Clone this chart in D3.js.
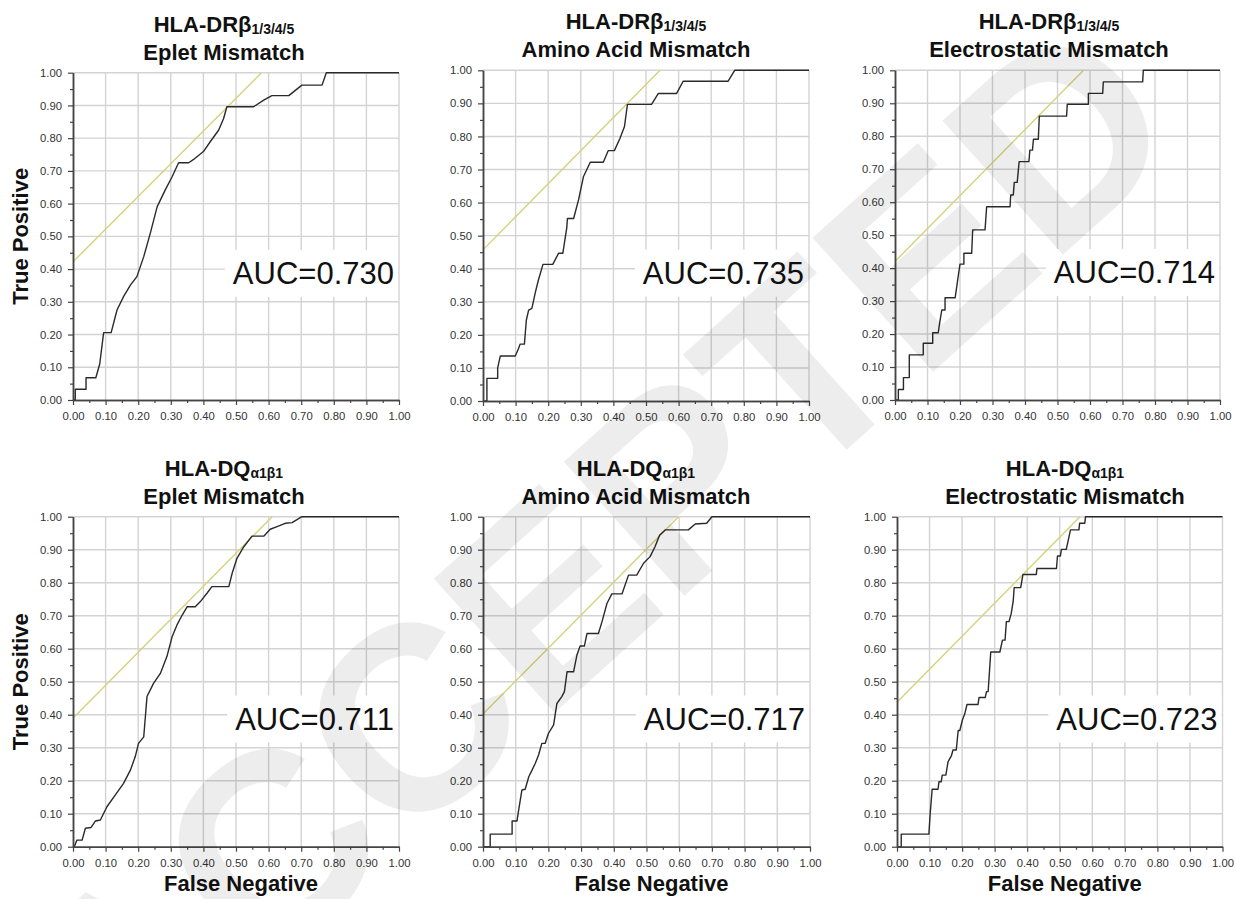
<!DOCTYPE html>
<html>
<head>
<meta charset="utf-8">
<script src="https://cdn.jsdelivr.net/npm/d3@7"></script>
<style>
  html, body { margin: 0; padding: 0; background: #ffffff; }
  svg { display: block; }
</style>
</head>
<body>
<svg id="chart" width="1236" height="899"></svg>
<script>
// ---------------- DATA ----------------
const tickValues = [0, 0.1, 0.2, 0.3, 0.4, 0.5, 0.6, 0.7, 0.8, 0.9, 1.0];
const tickLabels = ["0.00", "0.10", "0.20", "0.30", "0.40", "0.50", "0.60", "0.70", "0.80", "0.90", "1.00"];
const minorTickValues = [0.05, 0.15, 0.25, 0.35, 0.45, 0.55, 0.65, 0.75, 0.85, 0.95];

const locusNames = ["HLA-DR\u03B2", "HLA-DR\u03B2", "HLA-DR\u03B2", "HLA-DQ", "HLA-DQ", "HLA-DQ"];
const locusSubs = ["1/3/4/5", "1/3/4/5", "1/3/4/5", "\u03B11\u03B21", "\u03B11\u03B21", "\u03B11\u03B21"];
const methodNames = ["Eplet Mismatch", "Amino Acid Mismatch", "Electrostatic Mismatch",
                     "Eplet Mismatch", "Amino Acid Mismatch", "Electrostatic Mismatch"];
const aucLabels = ["AUC=0.730", "AUC=0.735", "AUC=0.714", "AUC=0.711", "AUC=0.717", "AUC=0.723"];
const yAxisTitle = "True Positive";
const xAxisTitle = "False Negative";
const watermarkText = "ACCEPTED";

// reference (tangent) lines: [x0, y0, x1, y1]
const refLines = [
  [0, 0.422, 0.578, 1],
  [0, 0.457, 0.543, 1],
  [0, 0.420, 0.580, 1],
  [0, 0.389, 0.611, 1],
  [0, 0.402, 0.598, 1],
  [0, 0.438, 0.562, 1]
];

const curveDrEplet = [[0,0],[0.007,0],[0.007,0.033],[0.04,0.033],[0.04,0.068],[0.07,0.068],[0.082,0.11],[0.094,0.206],[0.117,0.206],[0.135,0.275],[0.155,0.316],[0.176,0.351],[0.196,0.377],[0.217,0.438],[0.237,0.509],[0.258,0.59],[0.283,0.642],[0.304,0.682],[0.324,0.725],[0.355,0.725],[0.37,0.735],[0.4,0.759],[0.421,0.789],[0.447,0.825],[0.462,0.86],[0.472,0.896],[0.554,0.896],[0.585,0.916],[0.61,0.93],[0.662,0.93],[0.702,0.962],[0.764,0.962],[0.777,1],[1,1]];

const curveDrAmino = [[0,0],[0.012,0],[0.012,0.0685],[0.045,0.0685],[0.045,0.1],[0.053,0.136],[0.099,0.136],[0.109,0.159],[0.114,0.172],[0.127,0.172],[0.133,0.245],[0.14,0.275],[0.15,0.28],[0.16,0.326],[0.17,0.366],[0.184,0.413],[0.214,0.413],[0.232,0.447],[0.245,0.447],[0.257,0.524],[0.259,0.552],[0.278,0.552],[0.293,0.608],[0.308,0.678],[0.329,0.722],[0.369,0.722],[0.384,0.757],[0.403,0.757],[0.42,0.794],[0.434,0.83],[0.443,0.897],[0.517,0.897],[0.538,0.93],[0.594,0.93],[0.614,0.967],[0.752,0.967],[0.772,1],[1,1]];

const curveDrElectro = [[0,0],[0.0103,0],[0.0103,0.032],[0.026,0.032],[0.026,0.068],[0.044,0.068],[0.044,0.137],[0.087,0.137],[0.087,0.172],[0.116,0.172],[0.116,0.204],[0.133,0.204],[0.138,0.238],[0.144,0.273],[0.154,0.273],[0.154,0.31],[0.185,0.31],[0.19,0.344],[0.195,0.379],[0.2,0.412],[0.212,0.412],[0.212,0.445],[0.236,0.445],[0.239,0.516],[0.277,0.516],[0.282,0.586],[0.354,0.586],[0.356,0.622],[0.364,0.622],[0.367,0.66],[0.376,0.66],[0.382,0.723],[0.412,0.723],[0.415,0.758],[0.423,0.758],[0.426,0.791],[0.441,0.791],[0.444,0.861],[0.528,0.861],[0.53,0.897],[0.595,0.897],[0.595,0.93],[0.639,0.93],[0.641,0.965],[0.762,0.965],[0.764,1],[1,1]];

const curveDqEplet = [[0,0],[0.004,0],[0.012,0.02],[0.028,0.02],[0.038,0.056],[0.055,0.058],[0.069,0.078],[0.084,0.081],[0.104,0.121],[0.13,0.157],[0.155,0.192],[0.176,0.232],[0.191,0.273],[0.201,0.313],[0.217,0.333],[0.227,0.455],[0.247,0.495],[0.268,0.525],[0.288,0.576],[0.304,0.636],[0.319,0.672],[0.335,0.702],[0.35,0.727],[0.375,0.727],[0.39,0.742],[0.411,0.768],[0.426,0.788],[0.478,0.788],[0.488,0.828],[0.503,0.874],[0.524,0.909],[0.549,0.941],[0.585,0.941],[0.605,0.962],[0.626,0.97],[0.651,0.98],[0.672,0.982],[0.702,1],[1,1]];

const curveDqAmino = [[0,0],[0.022,0],[0.022,0.038],[0.089,0.038],[0.089,0.078],[0.104,0.078],[0.109,0.111],[0.114,0.141],[0.119,0.172],[0.129,0.174],[0.14,0.212],[0.15,0.232],[0.16,0.253],[0.17,0.278],[0.18,0.313],[0.19,0.313],[0.2,0.343],[0.216,0.369],[0.226,0.434],[0.241,0.455],[0.249,0.47],[0.257,0.53],[0.277,0.53],[0.287,0.58],[0.297,0.608],[0.31,0.608],[0.318,0.646],[0.353,0.646],[0.364,0.682],[0.379,0.737],[0.394,0.766],[0.425,0.766],[0.445,0.823],[0.47,0.823],[0.491,0.859],[0.511,0.879],[0.526,0.909],[0.54,0.944],[0.557,0.96],[0.628,0.96],[0.649,0.978],[0.684,0.98],[0.7,1],[1,1]];

const curveDqElectro = [[0,0],[0.013,0],[0.013,0.038],[0.098,0.038],[0.102,0.101],[0.108,0.174],[0.126,0.174],[0.129,0.197],[0.136,0.197],[0.139,0.217],[0.15,0.217],[0.157,0.258],[0.167,0.275],[0.172,0.293],[0.182,0.293],[0.188,0.352],[0.193,0.352],[0.201,0.384],[0.208,0.402],[0.215,0.431],[0.249,0.431],[0.252,0.452],[0.271,0.452],[0.275,0.47],[0.28,0.47],[0.285,0.545],[0.288,0.59],[0.316,0.59],[0.324,0.626],[0.332,0.626],[0.336,0.682],[0.344,0.682],[0.351,0.707],[0.357,0.744],[0.36,0.785],[0.38,0.785],[0.387,0.825],[0.428,0.825],[0.43,0.843],[0.49,0.843],[0.493,0.881],[0.502,0.881],[0.505,0.901],[0.52,0.901],[0.533,0.96],[0.559,0.96],[0.561,0.98],[0.577,0.98],[0.579,1],[1,1]];

const curves = [curveDrEplet, curveDrAmino, curveDrElectro, curveDqEplet, curveDqAmino, curveDqElectro];

// ---------------- LAYOUT (pixels) ----------------
const layout = [
  { left: 73,  right: 399,   top: 72.7,  bottom: 400,   titleX: 224,  yTitle: true,  xTitle: false },
  { left: 483, right: 809,   top: 70.3,  bottom: 401,   titleX: 636,  yTitle: false, xTitle: false },
  { left: 895, right: 1220,  top: 70.3,  bottom: 400,   titleX: 1049, yTitle: false, xTitle: false },
  { left: 73,  right: 399,   top: 516.7, bottom: 846.7, titleX: 224,  yTitle: true,  xTitle: true },
  { left: 483, right: 810,   top: 516.7, bottom: 846.7, titleX: 636,  yTitle: false, xTitle: true },
  { left: 897, right: 1222.5,top: 516.7, bottom: 846.7, titleX: 1065, yTitle: false, xTitle: true }
];
const FONT = "'Liberation Sans', Arial, Helvetica, sans-serif";

const svg = d3.select("#chart");
svg.append("rect").attr("width", 1236).attr("height", 899).attr("fill", "#ffffff");

layout.forEach((L, i) => {
  const x = d3.scaleLinear().domain([0, 1]).range([L.left, L.right]);
  const y = d3.scaleLinear().domain([0, 1]).range([L.bottom, L.top]);
  const g = svg.append("g");

  // grid
  g.append("g").selectAll("line.v").data(tickValues.slice(1)).join("line")
    .attr("x1", d => x(d)).attr("x2", d => x(d))
    .attr("y1", y(0)).attr("y2", y(1))
    .attr("stroke", "#d3d3d3").attr("stroke-width", 1.4);
  g.append("g").selectAll("line.h").data(tickValues.slice(1)).join("line")
    .attr("y1", d => y(d)).attr("y2", d => y(d))
    .attr("x1", x(0)).attr("x2", x(1))
    .attr("stroke", "#d3d3d3").attr("stroke-width", 1.4);

  // AUC label with white box
  const aucG = g.append("g");
  const aucText = aucG.append("text")
    .attr("x", x(1) - 5).attr("y", y(0.355))
    .attr("text-anchor", "end")
    .attr("font-family", FONT).attr("font-size", 31).attr("fill", "#111")
    .text(aucLabels[i]);
  const bb = aucText.node().getBBox();
  aucG.insert("rect", "text")
    .attr("x", bb.x - 8).attr("y", bb.y - 6)
    .attr("width", Math.min(bb.width + 14, x(1) - 1 - (bb.x - 8)))
    .attr("height", bb.height + 12)
    .attr("fill", "#ffffff");

  // reference line
  const r = refLines[i];
  g.append("line")
    .attr("x1", x(r[0])).attr("y1", y(r[1]))
    .attr("x2", x(r[2])).attr("y2", y(r[3]))
    .attr("stroke", "#d6d27a").attr("stroke-width", 1.4);

  // ROC curve
  const line = d3.line().x(d => x(d[0])).y(d => y(d[1]));
  g.append("path").datum(curves[i])
    .attr("d", line).attr("fill", "none")
    .attr("stroke", "#2a2a2a").attr("stroke-width", 1.4)
    .attr("stroke-linejoin", "round");

  // axes
  const fmt = (d) => tickLabels[tickValues.indexOf(d)];
  const yAxis = g.append("g").attr("transform", `translate(${L.left},0)`)
    .call(d3.axisLeft(y).tickValues(tickValues).tickFormat(fmt).tickSize(5).tickSizeOuter(0).tickPadding(6));
  const yMinor = g.append("g").attr("transform", `translate(${L.left},0)`)
    .call(d3.axisLeft(y).tickValues(minorTickValues).tickFormat("").tickSize(3).tickSizeOuter(0));
  const xAxis = g.append("g").attr("transform", `translate(0,${L.bottom})`)
    .call(d3.axisBottom(x).tickValues(tickValues).tickFormat(fmt).tickSize(5).tickSizeOuter(0).tickPadding(7));
  const xMinor = g.append("g").attr("transform", `translate(0,${L.bottom})`)
    .call(d3.axisBottom(x).tickValues(minorTickValues).tickFormat("").tickSize(3).tickSizeOuter(0));
  [yAxis, yMinor, xAxis, xMinor].forEach(a => {
    a.selectAll("path.domain").attr("stroke", "#444").attr("stroke-width", 1.5);
    a.selectAll(".tick line").attr("stroke", "#444").attr("stroke-width", 1.2);
    a.selectAll(".tick text").attr("font-family", FONT).attr("font-size", 11.3).attr("fill", "#333");
  });

  // title
  const t1 = g.append("text").attr("x", L.titleX).attr("y", L.top - 41)
    .attr("text-anchor", "middle").attr("font-family", FONT)
    .attr("font-weight", "bold").attr("font-size", 22).attr("fill", "#111");
  t1.append("tspan").text(locusNames[i]);
  t1.append("tspan").attr("font-size", 14).attr("dy", 2).text(locusSubs[i]);
  g.append("text").attr("x", L.titleX).attr("y", L.top - 13)
    .attr("text-anchor", "middle").attr("font-family", FONT)
    .attr("font-weight", "bold").attr("font-size", 22).attr("fill", "#111")
    .text(methodNames[i]);

  if (L.yTitle) {
    const cy = (L.top + L.bottom) / 2;
    g.append("text")
      .attr("transform", `translate(28,${cy}) rotate(-90)`)
      .attr("text-anchor", "middle").attr("font-family", FONT)
      .attr("font-weight", "bold").attr("font-size", 22).attr("fill", "#111")
      .text(yAxisTitle);
  }
  if (L.xTitle) {
    g.append("text")
      .attr("x", (L.left + L.right) / 2 + 5).attr("y", 891)
      .attr("text-anchor", "middle").attr("font-family", FONT)
      .attr("font-weight", "bold").attr("font-size", 22).attr("fill", "#111")
      .text(xAxisTitle);
  }
});

// watermark overlay
svg.append("text")
  .attr("transform", "translate(592,552) rotate(-42)")
  .attr("text-anchor", "middle").attr("dy", "0.36em")
  .attr("font-family", FONT).attr("font-weight", "bold").attr("font-size", 262)
  .attr("fill", "#000").attr("fill-opacity", 0.07)
  .text(watermarkText);
</script>
</body>
</html>
